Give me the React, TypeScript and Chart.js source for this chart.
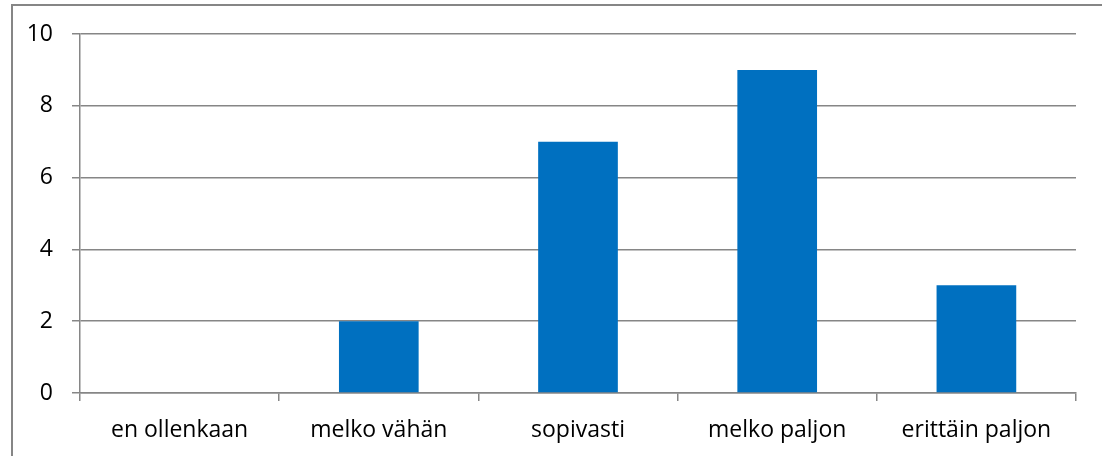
import React, { useEffect, useRef } from "react";
import { Chart, registerables } from "chart.js";

Chart.register(...registerables);

const categories = ["en ollenkaan", "melko vähän", "sopivasti", "melko paljon", "erittäin paljon"];
const values = [0, 2, 7, 9, 3];
const yMin = 0;
const yMax = 10;
const yStep = 2;

const FONT = "'Open Sans', Lato, sans-serif";

const frame = {
  id: "frame",
  beforeDraw(chart: any) {
    const ctx = chart.ctx;
    ctx.save();
    ctx.fillStyle = "#ffffff";
    ctx.fillRect(0, 0, chart.width, chart.height);
    ctx.strokeStyle = "#868686";
    ctx.lineWidth = 2;
    ctx.beginPath();
    ctx.moveTo(12, chart.height + 5);
    ctx.lineTo(12, 5);
    ctx.lineTo(chart.width + 5, 5);
    ctx.stroke();
    ctx.restore();
  },
};

export default function App() {
  const ref = useRef<HTMLCanvasElement>(null);
  useEffect(() => {
    document.body.style.margin = "0";
    const chart = new Chart(ref.current!, {
      type: "bar",
      data: {
        labels: categories,
        datasets: [
          {
            data: values,
            backgroundColor: "#0070C0",
            borderWidth: 0,
            barPercentage: 0.4,
            categoryPercentage: 1,
          },
        ],
      },
      options: {
        animation: false,
        responsive: false,
        maintainAspectRatio: false,
        layout: { padding: { top: 34, right: 26, left: 0, bottom: 0 } },
        plugins: { legend: { display: false }, tooltip: { enabled: false } },
        scales: {
          x: {
            offset: true,
            grid: {
              offset: true,
              drawOnChartArea: false,
              drawTicks: true,
              tickLength: 8,
              color: "#868686",
              lineWidth: 1.5,
            },
            border: { display: true, color: "#868686", width: 1.5 },
            ticks: {
              color: "#000000",
              font: { family: FONT, size: 23 },
              padding: 16,
              maxRotation: 0,
              autoSkip: false,
            },
            afterFit(scale: any) {
              scale.height = 63;
            },
          },
          y: {
            min: yMin,
            max: yMax,
            grid: {
              color: "#868686",
              lineWidth: 1.5,
              tickLength: 8,
            },
            border: { display: true, color: "#868686", width: 1.5 },
            ticks: {
              stepSize: yStep,
              color: "#000000",
              font: { family: FONT, size: 23 },
              padding: 19,
            },
            afterFit(scale: any) {
              scale.width = 80;
            },
          },
        },
      },
      plugins: [frame],
    });
    return () => chart.destroy();
  }, []);
  return (
    <div style={{ position: "absolute", left: 0, top: 0, width: 1102, height: 456 }}>
      <canvas ref={ref} width={1102} height={456} style={{ width: 1102, height: 456 }} />
    </div>
  );
}
